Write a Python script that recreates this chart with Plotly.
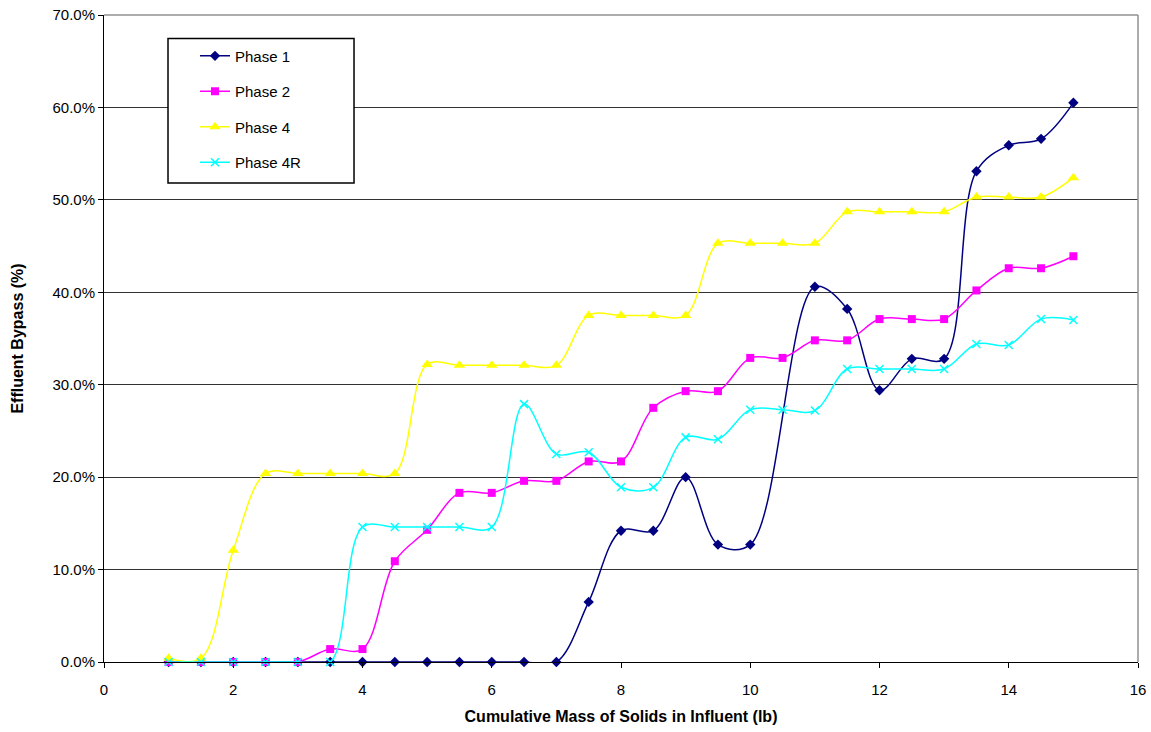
import plotly.graph_objects as go

# ---- data (values in %) ----
x_p1 = [1, 1.5, 2, 2.5, 3, 3.5, 4, 4.5, 5, 5.5, 6, 6.5, 7, 7.5, 8, 8.5, 9, 9.5, 10,
        11, 11.5, 12, 12.5, 13, 13.5, 14, 14.5, 15]
y_p1 = [0, 0, 0, 0, 0, 0, 0, 0, 0, 0, 0, 0, 0, 6.5, 14.2, 14.2, 20.0, 12.7, 12.7,
        40.6, 38.2, 29.4, 32.8, 32.8, 53.1, 55.9, 56.6, 60.5]

x_p2 = [1, 1.5, 2, 2.5, 3, 3.5, 4, 4.5, 5, 5.5, 6, 6.5, 7, 7.5, 8, 8.5, 9, 9.5, 10,
        10.5, 11, 11.5, 12, 12.5, 13, 13.5, 14, 14.5, 15]
y_p2 = [0, 0, 0, 0, 0, 1.4, 1.4, 10.9, 14.3, 18.3, 18.3, 19.6, 19.6, 21.7, 21.7,
        27.5, 29.3, 29.3, 32.9, 32.9, 34.8, 34.8, 37.1, 37.1, 37.1, 40.2, 42.6, 42.6, 43.9]

x_p4 = [1, 1.5, 2, 2.5, 3, 3.5, 4, 4.5, 5, 5.5, 6, 6.5, 7, 7.5, 8, 8.5, 9, 9.5, 10,
        10.5, 11, 11.5, 12, 12.5, 13, 13.5, 14, 14.5, 15]
y_p4 = [0.4, 0.4, 12.1, 20.4, 20.4, 20.4, 20.4, 20.4, 32.2, 32.1, 32.1, 32.1, 32.1,
        37.5, 37.5, 37.5, 37.5, 45.3, 45.3, 45.3, 45.3, 48.7, 48.7, 48.7, 48.7,
        50.3, 50.3, 50.3, 52.4]

x_p4r = [1, 1.5, 2, 2.5, 3, 3.5, 4, 4.5, 5, 5.5, 6, 6.5, 7, 7.5, 8, 8.5, 9, 9.5, 10,
         10.5, 11, 11.5, 12, 12.5, 13, 13.5, 14, 14.5, 15]
y_p4r = [0, 0, 0, 0, 0, 0, 14.6, 14.6, 14.6, 14.6, 14.6, 27.9, 22.5, 22.7, 18.9,
         18.9, 24.3, 24.1, 27.3, 27.3, 27.2, 31.7, 31.7, 31.7, 31.7, 34.4, 34.3, 37.1, 37.0]

series_names = ["Phase 1", "Phase 2", "Phase 4", "Phase 4R"]
x_ticks = [0, 2, 4, 6, 8, 10, 12, 14, 16]
y_ticks = [0, 10, 20, 30, 40, 50, 60, 70]
y_tick_labels = ["0.0%", "10.0%", "20.0%", "30.0%", "40.0%", "50.0%", "60.0%", "70.0%"]

FONT = "Arial, 'Liberation Sans', sans-serif"
TITLE_FONT = "'Liberation Sans Narrow', 'Arial Narrow', Arial, 'Liberation Sans', sans-serif"

styles = [
    dict(color="#000080", symbol="diamond", size=8, lw=1.5),
    dict(color="#FF00FF", symbol="square", size=8, lw=1.5),
    dict(color="#FFFF00", symbol="triangle-up", size=10, lw=1.5),
    dict(color="#00FFFF", symbol="x-thin", size=8, lw=1.5),
]
data = [(x_p1, y_p1), (x_p2, y_p2), (x_p4, y_p4), (x_p4r, y_p4r)]

fig = go.Figure()
for name, (xs, ys), st in zip(series_names, data, styles):
    marker = dict(color=st["color"], symbol=st["symbol"], size=st["size"])
    if st["symbol"] == "x-thin":
        marker["line"] = dict(color=st["color"], width=1.5)
    fig.add_trace(go.Scatter(
        x=xs, y=ys, name=name, mode="lines+markers",
        line=dict(color=st["color"], width=st["lw"], shape="spline", smoothing=1.0),
        marker=marker, cliponaxis=False, legendgroup=name,
    ))

fig.update_layout(
    width=1151, height=732, autosize=False,
    margin=dict(l=104, r=13, t=15, b=70),
    plot_bgcolor="white", paper_bgcolor="white",
    font=dict(family=FONT, size=15, color="black"),
    showlegend=True,
    legend=dict(x=0.088, y=0.962, xanchor="left", yanchor="top",
                bgcolor="rgba(0,0,0,0)", borderwidth=0,
                font=dict(family=FONT, size=15, color="black"),
                tracegroupgap=13),
    xaxis=dict(range=[0, 16], tickvals=x_ticks, showgrid=False, zeroline=False,
               automargin=False,
               showline=True, linecolor="black", linewidth=1,
               ticks="outside", ticklen=5, tickcolor="black",
               ticklabelstandoff=9,
               tickfont=dict(family=FONT, size=15),
               title=dict(text="<b>Cumulative Mass of Solids in Influent (lb)</b>",
                          font=dict(family=TITLE_FONT, size=16), standoff=13)),
    yaxis=dict(range=[0, 70], tickvals=y_ticks, ticktext=y_tick_labels,
               showgrid=True, gridcolor="#333333", gridwidth=1, zeroline=False,
               automargin=False,
               showline=True, linecolor="black", linewidth=1,
               ticks="outside", ticklen=5, tickcolor="black",
               tickfont=dict(family=FONT, size=15),
               title=dict(text="<b>Effluent Bypass (%)</b>",
                          font=dict(family=TITLE_FONT, size=16), standoff=24)),
    shapes=[
        # top and right plot-area border (gray)
        dict(type="line", xref="paper", yref="paper", x0=0, x1=1, y0=1, y1=1,
             line=dict(color="#909090", width=1.5), layer="above"),
        dict(type="line", xref="paper", yref="paper", x0=1, x1=1, y0=0, y1=1,
             line=dict(color="#909090", width=1.5), layer="above"),
        # legend box
        dict(type="rect", xref="paper", yref="paper", x0=0.0619, x1=0.2418,
             y0=0.7403, y1=0.9637, line=dict(color="black", width=1.5),
             fillcolor="white", layer="above", opacity=1),
    ],
)

# remove the browser's default 8px body margin so the figure fills the window
fig.write_html("out.html", config={"displayModeBar": False},
               post_script="document.body.style.margin='0';")
